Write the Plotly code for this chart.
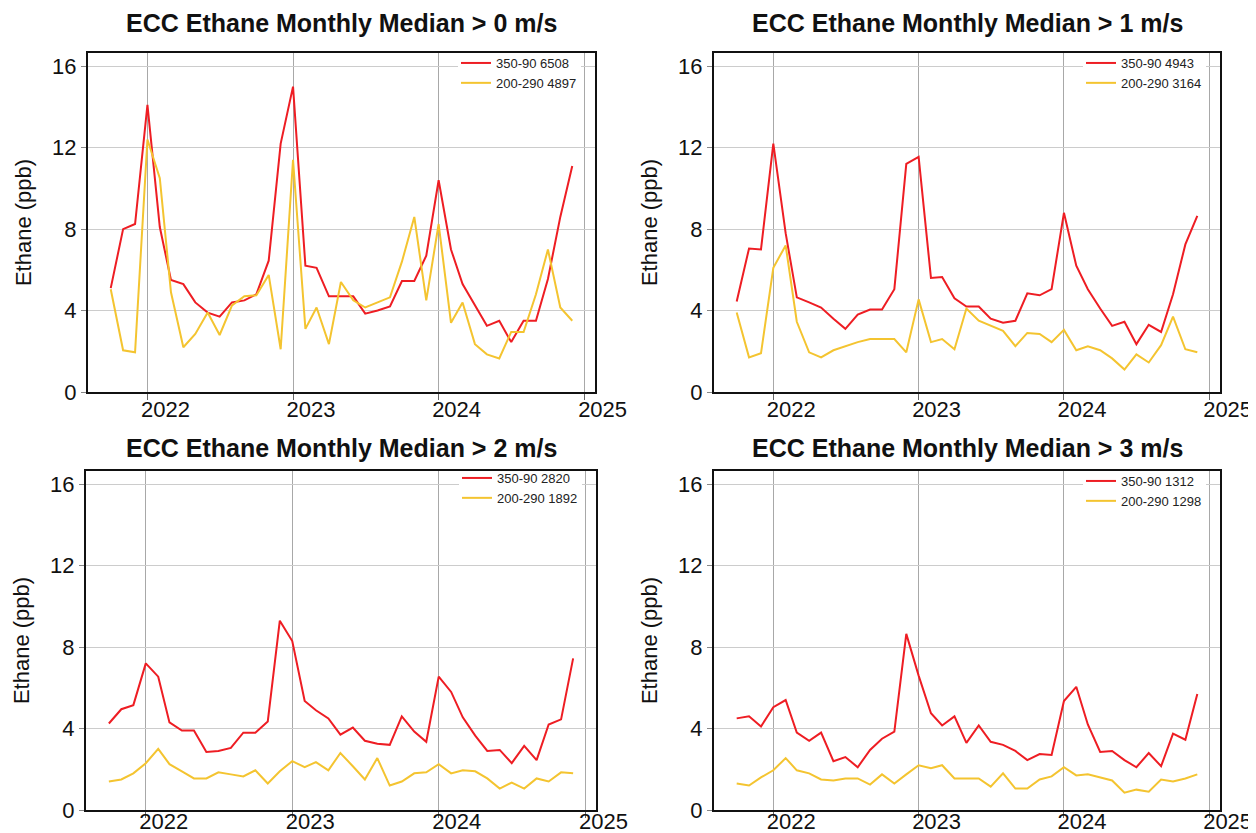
import pandas as pd
import plotly.graph_objects as go

# ---------------- data ----------------
months = pd.date_range("2021-10-01", "2024-12-01", freq="MS")

titles = ["ECC Ethane Monthly Median > 0 m/s", "ECC Ethane Monthly Median > 1 m/s",
          "ECC Ethane Monthly Median > 2 m/s", "ECC Ethane Monthly Median > 3 m/s"]

names_red = ["350-90 6508", "350-90 4943", "350-90 2820", "350-90 1312"]
names_yel = ["200-290 4897", "200-290 3164", "200-290 1892", "200-290 1298"]

red0 = [5.1, 8.0, 8.25, 14.1, 8.1, 5.5, 5.3, 4.4, 3.9, 3.7,
        4.4, 4.5, 4.8, 6.45, 12.2, 15.0, 6.2, 6.1, 4.7, 4.7,
        4.7, 3.85, 4.0, 4.2, 5.45, 5.45, 6.7, 10.4, 7.0, 5.3,
        4.25, 3.25, 3.5, 2.45, 3.5, 3.5, 5.55, 8.6, 11.1]
yel0 = [5.05, 2.05, 1.95, 12.4, 10.5, 4.9, 2.2, 2.85, 3.9, 2.8,
        4.25, 4.7, 4.75, 5.75, 2.1, 11.4, 3.1, 4.15, 2.35, 5.4,
        4.5, 4.15, 4.4, 4.65, 6.4, 8.6, 4.5, 8.25, 3.4, 4.4,
        2.35, 1.85, 1.65, 2.95, 2.95, 4.8, 7.0, 4.15, 3.5]

red1 = [4.45, 7.05, 7.0, 12.2, 7.8, 4.65, 4.4, 4.15, 3.6, 3.1,
        3.8, 4.05, 4.05, 5.05, 11.2, 11.55, 5.6, 5.65, 4.6, 4.2,
        4.2, 3.6, 3.4, 3.5, 4.85, 4.75, 5.05, 8.8, 6.2, 5.05,
        4.1, 3.25, 3.45, 2.35, 3.3, 2.95, 4.8, 7.25, 8.65]
yel1 = [3.9, 1.7, 1.9, 6.1, 7.2, 3.45, 1.95, 1.7, 2.05, 2.25,
        2.45, 2.6, 2.6, 2.6, 1.95, 4.55, 2.45, 2.6, 2.1, 4.1,
        3.5, 3.25, 3.0, 2.25, 2.9, 2.85, 2.45, 3.05, 2.05, 2.25,
        2.05, 1.65, 1.1, 1.85, 1.45, 2.3, 3.7, 2.1, 1.95]

red2 = [4.25, 4.95, 5.15, 7.2, 6.55, 4.3, 3.9, 3.9, 2.85, 2.9,
        3.05, 3.8, 3.8, 4.35, 9.3, 8.3, 5.35, 4.9, 4.5, 3.7,
        4.05, 3.4, 3.25, 3.2, 4.6, 3.85, 3.35, 6.55, 5.8, 4.55,
        3.65, 2.9, 2.95, 2.3, 3.15, 2.45, 4.2, 4.45, 7.45]
yel2 = [1.4, 1.5, 1.8, 2.3, 3.0, 2.25, 1.9, 1.55, 1.55, 1.85,
        1.75, 1.65, 1.95, 1.3, 1.9, 2.4, 2.1, 2.35, 1.95, 2.8,
        2.15, 1.5, 2.55, 1.2, 1.4, 1.8, 1.85, 2.25, 1.8, 1.95,
        1.9, 1.55, 1.05, 1.35, 1.05, 1.55, 1.4, 1.85, 1.8]

red3 = [4.5, 4.6, 4.1, 5.05, 5.4, 3.8, 3.4, 3.8, 2.4, 2.6,
        2.1, 2.95, 3.5, 3.85, 8.65, 6.6, 4.75, 4.15, 4.6, 3.3,
        4.15, 3.35, 3.2, 2.9, 2.45, 2.75, 2.7, 5.35, 6.05, 4.2,
        2.85, 2.9, 2.45, 2.1, 2.8, 2.15, 3.75, 3.45, 5.7]
yel3 = [1.3, 1.2, 1.6, 1.95, 2.55, 1.95, 1.8, 1.5, 1.45, 1.55,
        1.55, 1.25, 1.75, 1.3, 1.75, 2.2, 2.05, 2.2, 1.55, 1.55,
        1.55, 1.15, 1.8, 1.05, 1.05, 1.5, 1.65, 2.1, 1.7, 1.75,
        1.6, 1.45, 0.85, 1.0, 0.9, 1.5, 1.4, 1.55, 1.75]

red_series = [red0, red1, red2, red3]
yel_series = [yel0, yel1, yel2, yel3]

year_ticks = ["2022-01-01", "2023-01-01", "2024-01-01", "2025-01-01"]
year_labels = ["2022", "2023", "2024", "2025"]
y_ticks = [0, 4, 8, 12, 16]

# ---------------- style ----------------
W, H = 1256, 833
FONT = "Arial, Liberation Sans, sans-serif"
RED = "#EE1D23"
YEL = "#F4C430"

# panel pixel boxes: (left, right, top, bottom)
boxes = [(80, 587, 45, 384), (706, 1212, 45, 384),
         (78, 588, 463, 802), (706, 1212, 463, 802)]
title_y = [15.5, 15.5, 440, 440]
legend_pos = [(574, 40), (1199, 40), (575, 455), (1199, 458)]
xlabel_standoff = [-3, -3, -9, -9]

fig = go.Figure()
layout = dict(width=W, height=H, margin=dict(l=0, r=0, t=0, b=0),
              paper_bgcolor="white", plot_bgcolor="white",
              font=dict(family=FONT, color="#111111"),
              showlegend=True, annotations=[], shapes=[])

for i in range(4):
    ax = "" if i == 0 else str(i + 1)
    lg = "legend" if i == 0 else f"legend{i + 1}"
    fig.add_trace(go.Scatter(x=months, y=red_series[i], mode="lines", name=names_red[i],
                             line=dict(color=RED, width=2), xaxis="x" + ax, yaxis="y" + ax,
                             legend=lg))
    fig.add_trace(go.Scatter(x=months, y=yel_series[i], mode="lines", name=names_yel[i],
                             line=dict(color=YEL, width=2), xaxis="x" + ax, yaxis="y" + ax,
                             legend=lg))
    l, r, t, b = boxes[i]
    layout["xaxis" + ax] = dict(
        domain=[l / W, r / W], anchor="y" + ax, type="date",
        range=["2021-08-05", "2025-01-27"],
        tickvals=year_ticks, ticktext=year_labels, ticklabelposition="outside right",
        ticklabelshift=-8, ticklabelstandoff=xlabel_standoff[i],
        ticks="outside", ticklen=6, tickcolor="#666666",
        tickfont=dict(size=22, family=FONT, color="#111111"),
        showgrid=True, gridcolor="#a8a8a8", gridwidth=1,
        showline=True, linecolor="#111111", linewidth=2, mirror=True,
        zeroline=False, automargin=False)
    layout["yaxis" + ax] = dict(
        domain=[1 - b / H, 1 - t / H], anchor="x" + ax,
        range=[0, 16.65], tickvals=y_ticks,
        ticks="outside", ticklen=5, tickcolor="#888888",
        tickfont=dict(size=22, family=FONT, color="#111111"),
        title=dict(text="Ethane (ppb)", font=dict(size=22, family=FONT, color="#111111"),
                   standoff=14),
        showgrid=True, gridcolor="#cccccc", gridwidth=1,
        showline=True, linecolor="#111111", linewidth=2, mirror=True,
        zeroline=False, automargin=False)
    lx, ly = legend_pos[i]
    layout[lg] = dict(x=lx / W, y=1 - ly / H, xanchor="right", yanchor="top",
                      bgcolor="rgba(255,255,255,0)", borderwidth=0, itemwidth=30,
                      font=dict(size=13, family=FONT, color="#222222"),
                      tracegroupgap=0)
    # white patch behind the legend hiding the gridlines (kept inside the frame)
    layout["shapes"].append(dict(
        type="rect", xref="paper", yref="paper", layer="above",
        x0=(lx - 124) / W, x1=(lx - 1) / W,
        y0=1 - (ly + 52) / H, y1=1 - (t + 2) / H,
        fillcolor="white", line=dict(width=0)))
    layout["annotations"].append(dict(
        text=titles[i], xref="paper", yref="paper",
        x=(l + r) / 2 / W, y=1 - title_y[i] / H, xanchor="center", yanchor="middle",
        showarrow=False, font=dict(size=25, family=FONT, color="#111111", weight="bold")))

fig.update_layout(**layout)
fig.write_html("out.html")
